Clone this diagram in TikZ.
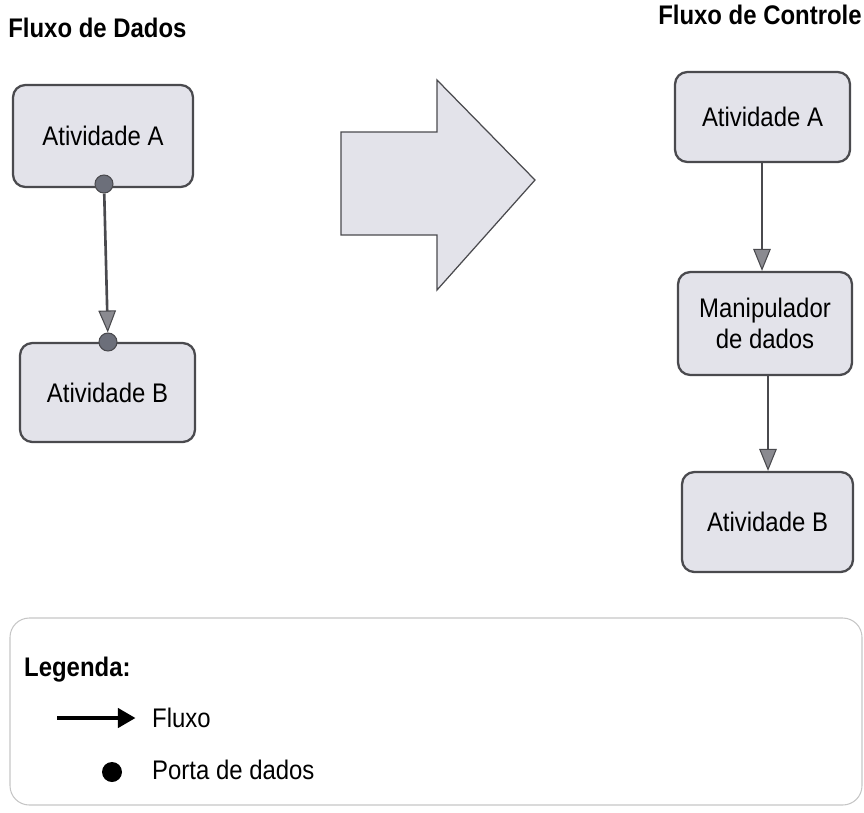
\documentclass[tikz,border=0pt]{standalone}
\usepackage{fontspec}
\setmainfont{Liberation Sans}[FakeStretch=0.89]
\usetikzlibrary{arrows.meta}
\definecolor{boxfill}{HTML}{E3E3EA}
\definecolor{boxline}{HTML}{4A4A4E}
\definecolor{portfill}{HTML}{6C6F7A}
\definecolor{headfill}{HTML}{8A8A90}
\begin{document}
\begin{tikzpicture}[x=0.02cm,y=-0.02cm,
  every node/.style={font=\fontsize{15.3}{18}\selectfont},
  activity/.style={draw=boxline, fill=boxfill, line width=1.3pt,
    rounded corners=7pt, align=center, inner sep=0pt},
  port/.style={circle, draw=boxline, fill=portfill, line width=0.6pt,
    minimum size=0.36cm, inner sep=0pt},
  flow/.style={draw=boxline, line width=1.5pt,
    -{Triangle[width=10pt,length=12.5pt,fill=headfill,line width=0.6pt]}},
  title/.style={font=\bfseries\fontsize{15.3}{18}\selectfont, inner sep=0pt}]
\useasboundingbox (0,0) rectangle (864,812);

% column titles
\node[title, anchor=base west] (tdata) at (8,37) {Fluxo de Dados};
\node[title, anchor=base east] (tctrl) at (862,24) {Fluxo de Controle};

% data flow side
\node[activity, minimum width=3.6cm, minimum height=2.04cm] (la) at (103,136) {Atividade A};
\node[activity, minimum width=3.5cm, minimum height=1.98cm] (lb) at (107.5,392.5) {Atividade B};
\node[port] (pa) at (104,184) {};
\node[port] (pb) at (108,342) {};
\draw[flow] (pa) -- (pb);

% big transformation arrow
\draw[draw=boxline, fill=boxfill, line width=0.7pt, line join=miter]
  (341,132) -- (437,132) -- (437,80) -- (535,180) -- (437,290) -- (437,235) -- (341,235) -- cycle;

% control flow side
\node[activity, minimum width=3.5cm, minimum height=1.8cm] (ra) at (762.5,117) {\raisebox{-4pt}{Atividade A}};
\node[activity, minimum width=3.48cm, minimum height=2.06cm] (rm) at (765,323.5) {Manipulador\\de dados};
\node[activity, minimum width=3.42cm, minimum height=2.0cm] (rb) at (767.5,522) {Atividade B};
\draw[flow] (ra.south -| 762,0) -- (rm.north -| 762,0);
\draw[flow] (rm.south -| 768,0) -- (rb.north -| 768,0);

% legend
\draw[draw=gray!45, line width=0.6pt, rounded corners=11pt] (10,618) rectangle (862,805);
\node[anchor=base west, font=\bfseries\fontsize{15.3}{18}\selectfont] (leg) at (18,676) {Legenda:};
\coordinate (ls) at (57,718);
\node[anchor=west] (lf) at (146,718) {Fluxo};
\draw[line width=2pt, shorten >=6pt, -{Triangle[width=11pt,length=10pt]}] (ls) -- (lf.west);
\node[circle, fill=black, minimum size=0.4cm, inner sep=0pt] (ld) at (112,772) {};
\node[anchor=west] (lp) at (146,770) {Porta de dados};
\end{tikzpicture}
\end{document}
